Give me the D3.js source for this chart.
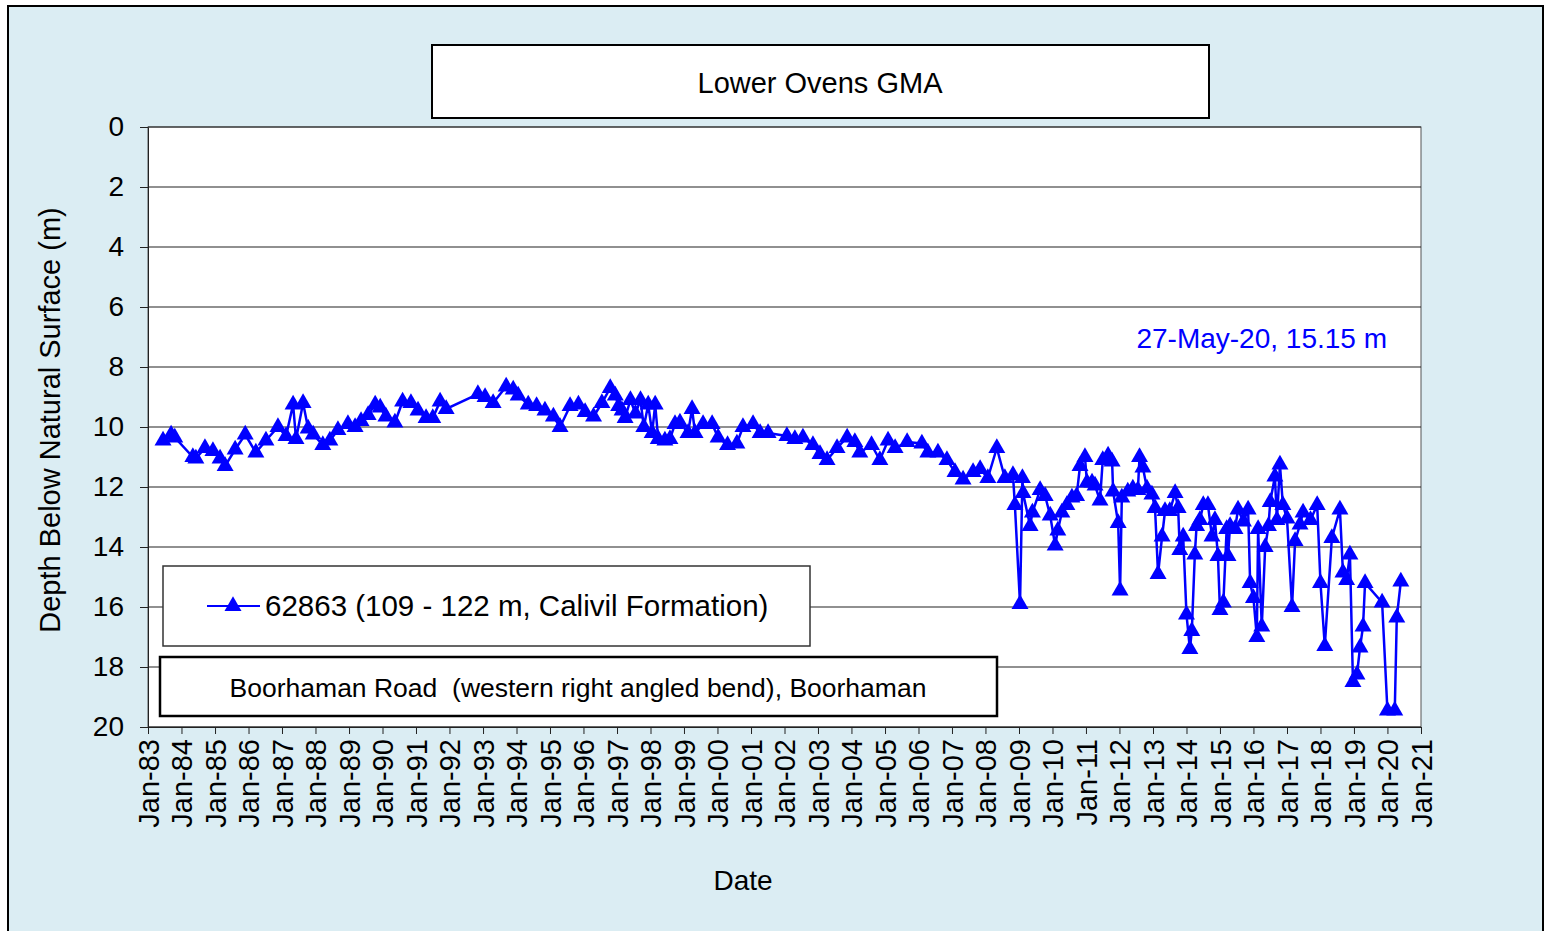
<!DOCTYPE html>
<html>
<head>
<meta charset="utf-8">
<script src="https://cdn.jsdelivr.net/npm/d3@7"></script>
<style>
  body { margin: 0; background: #fff; }
  svg { display: block; font-family: "Liberation Sans", Arial, sans-serif; }
</style>
</head>
<body>
<svg id="chart" width="1547" height="931"></svg>
<script>
// sample dates as decimal years, depth below natural surface (m)
var sampleYears = [
  1983.45, 1983.69, 1983.80, 1984.34, 1984.43, 1984.70, 1984.94, 1985.15, 1985.30, 1985.60,
  1985.90, 1986.22, 1986.52, 1986.88, 1987.12, 1987.33, 1987.42, 1987.63, 1987.78, 1987.93,
  1988.22, 1988.43, 1988.67, 1988.97, 1989.18, 1989.36, 1989.57, 1989.78, 1989.93, 1990.10,
  1990.37, 1990.60, 1990.85, 1991.06, 1991.30, 1991.50, 1991.72, 1991.90, 1992.85, 1993.06,
  1993.30, 1993.69, 1993.90, 1994.05, 1994.35, 1994.60, 1994.85, 1995.10, 1995.30, 1995.60,
  1995.85, 1996.05, 1996.30, 1996.55, 1996.80, 1996.95, 1997.05, 1997.15, 1997.24, 1997.40,
  1997.55, 1997.70, 1997.80, 1997.93, 1998.05, 1998.14, 1998.23, 1998.43, 1998.58, 1998.73,
  1998.88, 1999.12, 1999.24, 1999.33, 1999.57, 1999.84, 2000.02, 2000.30, 2000.58, 2000.76,
  2001.06, 2001.27, 2001.51, 2002.07, 2002.31, 2002.55, 2002.85, 2003.06, 2003.27, 2003.57,
  2003.87, 2004.10, 2004.25, 2004.60, 2004.85, 2005.09, 2005.30, 2005.66, 2006.10, 2006.28,
  2006.58, 2006.85, 2007.09, 2007.33, 2007.63, 2007.84, 2008.07, 2008.34, 2008.58, 2008.82,
  2008.88, 2009.03, 2009.10, 2009.12, 2009.33, 2009.40, 2009.63, 2009.78, 2009.93, 2010.08,
  2010.16, 2010.28, 2010.43, 2010.58, 2010.72, 2010.82, 2010.97, 2011.03, 2011.18, 2011.27,
  2011.42, 2011.50, 2011.66, 2011.78, 2011.81, 2011.96, 2012.02, 2012.07, 2012.25, 2012.40,
  2012.55, 2012.60, 2012.70, 2012.82, 2012.97, 2013.06, 2013.15, 2013.27, 2013.36, 2013.50,
  2013.66, 2013.75, 2013.80, 2013.90, 2014.00, 2014.10, 2014.16, 2014.25, 2014.30, 2014.40,
  2014.50, 2014.64, 2014.76, 2014.85, 2014.94, 2015.00, 2015.10, 2015.20, 2015.24, 2015.30,
  2015.45, 2015.54, 2015.70, 2015.84, 2015.90, 2016.00, 2016.10, 2016.14, 2016.25, 2016.35,
  2016.45, 2016.50, 2016.64, 2016.70, 2016.79, 2016.88, 2017.00, 2017.15, 2017.24, 2017.39,
  2017.48, 2017.70, 2017.90, 2018.00, 2018.13, 2018.34, 2018.58, 2018.67, 2018.78, 2018.88,
  2018.97, 2019.09, 2019.18, 2019.27, 2019.33, 2019.84, 2020.00, 2020.22, 2020.28, 2020.40
]

var depths = [
  10.45, 10.25, 10.35, 11.0, 11.05, 10.7, 10.8, 11.05, 11.3, 10.75,
  10.25, 10.85, 10.45, 10.0, 10.3, 9.25, 10.4, 9.2, 10.05, 10.25,
  10.6, 10.45, 10.1, 9.9, 10.0, 9.8, 9.6, 9.25, 9.35, 9.65,
  9.85, 9.15, 9.2, 9.45, 9.7, 9.7, 9.15, 9.4, 8.9, 9.0,
  9.2, 8.65, 8.75, 8.95, 9.25, 9.3, 9.45, 9.65, 10.0, 9.3,
  9.25, 9.5, 9.65, 9.2, 8.7, 8.95, 9.3, 9.45, 9.7, 9.1,
  9.55, 9.1, 10.0, 9.25, 10.2, 9.25, 10.4, 10.45, 10.4, 9.9,
  9.85, 10.2, 9.4, 10.2, 9.9, 9.9, 10.35, 10.6, 10.55, 10.0,
  9.9, 10.2, 10.2, 10.3, 10.4, 10.35, 10.6, 10.9, 11.1, 10.7,
  10.35, 10.5, 10.85, 10.6, 11.1, 10.45, 10.7, 10.5, 10.55, 10.85,
  10.85, 11.1, 11.5, 11.75, 11.5, 11.4, 11.7, 10.7, 11.7, 11.6,
  12.6, 15.9, 11.7, 12.2, 13.3, 12.85, 12.1, 12.3, 12.95, 13.95,
  13.45, 12.85, 12.6, 12.35, 12.3, 11.3, 11.0, 11.85, 11.85, 11.95,
  12.45, 11.1, 10.95, 11.15, 12.15, 13.2, 15.45, 12.35, 12.15, 12.05,
  12.1, 11.0, 11.35, 12.05, 12.25, 12.7, 14.9, 13.65, 12.8, 12.8,
  12.2, 12.7, 14.1, 13.65, 16.25, 17.4, 16.8, 14.25, 13.3, 13.1,
  12.6, 12.6, 13.65, 13.1, 14.3, 16.1, 15.85, 13.4, 14.3, 13.3,
  13.4, 12.75, 13.15, 12.75, 15.2, 15.7, 17.0, 13.4, 16.65, 14.0,
  13.3, 12.5, 11.65, 13.1, 11.25, 12.6, 13.05, 16.0, 13.8, 13.25,
  12.85, 13.1, 12.6, 15.2, 17.3, 13.7, 12.75, 14.85, 15.1, 14.25,
  18.5, 18.25, 17.35, 16.65, 15.2, 15.85, 19.45, 19.45, 16.35, 15.15
]

var depthTicks = [0, 2, 4, 6, 8, 10, 12, 14, 16, 18, 20]
var chartTitle = "Lower Ovens GMA"
var seriesName = "62863 (109 - 122 m, Calivil Formation)"
var siteName = "Boorhaman Road  (western right angled bend), Boorhaman"
var lastReading = "27-May-20, 15.15 m"

function yearToDate(y) {
  var yr = Math.floor(y)
  return new Date(yr, 0, 1 + Math.round((y - yr) * 365.25))
}

var points = sampleYears.map(function (y, i) {
  return { date: yearToDate(y), depth: depths[i] }
})

var svg = d3.select('#chart')
var plot = { left: 148, top: 127, right: 1421, bottom: 727 }

// outer panel
svg.append('rect')
  .attr('x', 8).attr('y', 6).attr('width', 1535).attr('height', 940)
  .attr('fill', '#dbedf3').attr('stroke', '#000').attr('stroke-width', 2)

var x = d3.scaleTime()
  .domain([new Date(1983, 0, 1), new Date(2021, 0, 1)])
  .range([plot.left, plot.right])

var y = d3.scaleLinear()
  .domain([0, 20])
  .range([plot.top, plot.bottom])

svg.append('rect')
  .attr('x', plot.left).attr('y', plot.top)
  .attr('width', plot.right - plot.left).attr('height', plot.bottom - plot.top)
  .attr('fill', '#fff').attr('stroke', '#555').attr('stroke-width', 1)

// horizontal gridlines
svg.append('g').selectAll('line')
  .data(depthTicks)
  .enter().append('line')
  .attr('x1', plot.left).attr('x2', plot.right)
  .attr('y1', function (d) { return y(d) }).attr('y2', function (d) { return y(d) })
  .attr('stroke', '#222').attr('stroke-width', 1.2)

// axes
var yAxis = svg.append('g')
  .attr('transform', 'translate(' + plot.left + ',0)')
  .call(d3.axisLeft(y).tickValues(depthTicks).tickSize(8).tickSizeOuter(0).tickPadding(16))
yAxis.selectAll('text').attr('font-size', 28).attr('fill', '#000')
  .attr('font-family', '"Liberation Sans", Arial, sans-serif')
yAxis.selectAll('line, path').attr('stroke', '#222')

var xAxis = svg.append('g')
  .attr('transform', 'translate(0,' + plot.bottom + ')')
  .call(d3.axisBottom(x).ticks(d3.timeYear.every(1)).tickFormat(d3.timeFormat('%b-%y')).tickSize(7).tickSizeOuter(0))
xAxis.selectAll('line, path').attr('stroke', '#222')
xAxis.selectAll('text')
  .attr('font-size', 29).attr('fill', '#000')
  .attr('font-family', '"Liberation Sans", Arial, sans-serif')
  .attr('transform', 'rotate(-90)')
  .attr('text-anchor', 'end')
  .attr('x', -12).attr('y', 0).attr('dy', '0.35em')

// series
var line = d3.line()
  .x(function (d) { return x(d.date) })
  .y(function (d) { return y(d.depth) })

svg.append('path')
  .datum(points)
  .attr('d', line)
  .attr('fill', 'none').attr('stroke', '#0000ff').attr('stroke-width', 2.5)

var tri = d3.symbol().type(d3.symbolTriangle).size(125)
svg.append('g').selectAll('path')
  .data(points)
  .enter().append('path')
  .attr('d', tri)
  .attr('transform', function (d) { return 'translate(' + x(d.date) + ',' + y(d.depth) + ')' })
  .attr('fill', '#0000ff')

// title box
svg.append('rect')
  .attr('x', 432).attr('y', 45).attr('width', 777).attr('height', 73)
  .attr('fill', '#fff').attr('stroke', '#000').attr('stroke-width', 2)
svg.append('text')
  .attr('x', 820).attr('y', 83).attr('dy', '0.35em')
  .attr('text-anchor', 'middle').attr('font-size', 29)
  .text(chartTitle)

// last reading label
svg.append('text')
  .attr('x', 1387).attr('y', 338).attr('dy', '0.35em')
  .attr('text-anchor', 'end').attr('font-size', 28).attr('fill', '#0000ff')
  .text(lastReading)

// legend
svg.append('rect')
  .attr('x', 163).attr('y', 566).attr('width', 647).attr('height', 80)
  .attr('fill', '#fff').attr('stroke', '#333').attr('stroke-width', 1.5)
svg.append('line')
  .attr('x1', 207).attr('x2', 260).attr('y1', 606).attr('y2', 606)
  .attr('stroke', '#0000ff').attr('stroke-width', 2)
svg.append('path')
  .attr('d', tri).attr('transform', 'translate(233,606)').attr('fill', '#0000ff')
svg.append('text')
  .attr('x', 265).attr('y', 606).attr('dy', '0.35em')
  .attr('font-size', 29.5)
  .text(seriesName)

// site box
svg.append('rect')
  .attr('x', 160).attr('y', 657).attr('width', 837).attr('height', 59)
  .attr('fill', '#fff').attr('stroke', '#000').attr('stroke-width', 2.5)
svg.append('text')
  .attr('x', 578).attr('y', 688).attr('dy', '0.35em')
  .attr('text-anchor', 'middle').attr('font-size', 26.5)
  .style('white-space', 'pre')
  .text(siteName)

// axis titles
svg.append('text')
  .attr('transform', 'translate(50,420) rotate(-90)')
  .attr('text-anchor', 'middle').attr('dy', '0.35em').attr('font-size', 29)
  .text('Depth Below Natural Surface (m)')
svg.append('text')
  .attr('x', 743).attr('y', 880).attr('dy', '0.35em')
  .attr('text-anchor', 'middle').attr('font-size', 28)
  .text('Date')
</script>
</body>
</html>
